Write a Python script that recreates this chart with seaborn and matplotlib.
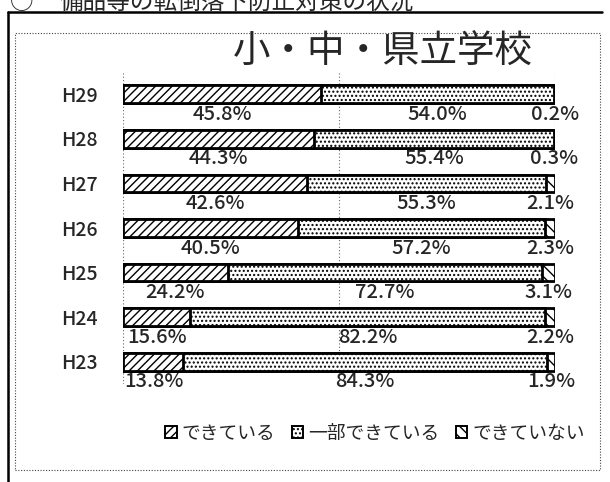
import matplotlib
matplotlib.use('Agg')
import matplotlib.pyplot as plt
from matplotlib.patches import Patch, Rectangle
from matplotlib.lines import Line2D
import seaborn as sns

# data
years = ['H29', 'H28', 'H27', 'H26', 'H25', 'H24', 'H23']
done = [45.8, 44.3, 42.6, 40.5, 24.2, 15.6, 13.8]
partly = [54.0, 55.4, 55.3, 57.2, 72.7, 82.2, 84.3]
not_done = [0.2, 0.3, 2.1, 2.3, 3.1, 2.2, 1.9]
legend_labels = ['できている', '一部できている', 'できていない']
title = '小・中・県立学校'
page_heading = '備品等の転倒落下防止対策の状況'

sns.set_style('white')
plt.rcParams['font.family'] = ['Noto Sans CJK JP', 'DejaVu Sans']
plt.rcParams['hatch.linewidth'] = 1.0

W, H = 610, 482
fig = plt.figure(figsize=(W / 100, H / 100), dpi=100)
ax = fig.add_axes([123 / W, 1 - 384 / H, (555 - 123) / W, (384 - 72) / H])

hatches = ['\\\\\\', '....', '////']
cum_two = [a + b for a, b in zip(done, partly)]
totals = [a + b + c for a, b, c in zip(done, partly, not_done)]

# stacked bars: draw the totals first, then overlay shorter ones
for values, hatch in zip([totals, cum_two, done], hatches):
    n_before = len(ax.patches)
    sns.barplot(x=values, y=years, orient='h', order=years, color='white',
                edgecolor='black', linewidth=2.0, width=0.4, ax=ax)
    for p in ax.patches[n_before:]:
        p.set_hatch(hatch)
        p.set_facecolor('white')

# data labels under each bar
for i in range(len(years)):
    y = i + 0.45
    x1 = max(done[i] / 2, 7.2)
    x2 = done[i] + partly[i] / 2
    x3 = done[i] + partly[i] + not_done[i] / 2
    for x, v in [(x1, done[i]), (x2, partly[i]), (x3, not_done[i])]:
        ax.text(x, y, f'{v:.1f}%', ha='center', va='center', fontsize=14.5,
                fontweight='medium', clip_on=False)

ax.set_xlim(0, 100)
ax.set_ylim(6.5, -0.5)
ax.set_xticks([0, 50, 100])
ax.set_xticklabels([])
ax.tick_params(axis='x', length=0)
ax.tick_params(axis='y', length=0, pad=18)
for lab in ax.get_yticklabels():
    lab.set_fontsize(14)
    lab.set_fontweight('medium')
ax.xaxis.grid(True, linestyle=(0, (1, 2)), color='#666666', linewidth=0.8)
ax.set_axisbelow(True)
ax.set_xlabel('')
ax.set_ylabel('')
for s in ax.spines.values():
    s.set_visible(False)

fig.text(383 / W, 1 - 52 / H, title, fontsize=27, ha='center', va='center')

handles = [Patch(facecolor='white', edgecolor='black', hatch=h, linewidth=1.4)
           for h in ['////', '....', '\\\\\\']]
fig.legend(handles, legend_labels, loc='center', bbox_to_anchor=(375 / W, 1 - 433 / H),
           ncol=3, frameon=False, prop={'size': 13.5},
           handlelength=0.6, handleheight=0.6, handletextpad=0.25, columnspacing=0.9)

# page heading cut off at the top of the scan
fig.text(10 / W, 1 - 9 / H, '○', fontsize=17, ha='left', va='baseline')
fig.text(60 / W, 1 - 9 / H, page_heading, fontsize=17, ha='left', va='baseline')

# outer solid frame and inner dotted chart border
fig.add_artist(Line2D([8 / W, 8 / W], [0, 1 - 12 / H], color='black', linewidth=1.8))
fig.add_artist(Line2D([8 / W, 602 / W], [1 - 12 / H, 1 - 12 / H], color='black', linewidth=1.8))
fig.add_artist(Rectangle((15 / W, 1 - 470 / H), (600 - 15) / W, (470 - 33) / H,
                         fill=False, edgecolor='#444444', linewidth=0.8,
                         linestyle=(0, (1, 1.5)), transform=fig.transFigure))

fig.savefig('out.png', dpi=100)
